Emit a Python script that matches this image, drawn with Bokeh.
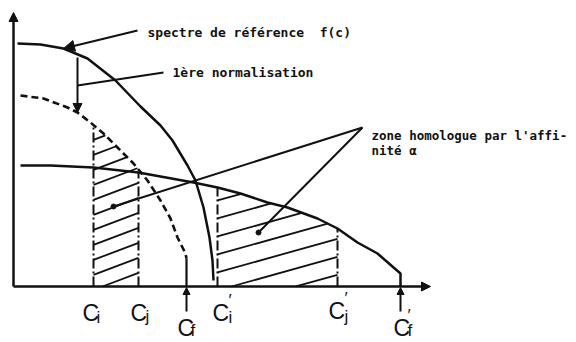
import numpy as np
from bokeh.plotting import figure
from bokeh.models import Range1d, Arrow, NormalHead
from bokeh.core.properties import value
from bokeh.embed import file_html
from bokeh.resources import INLINE

# reference spectrum f(c)
ref_c = [4, 27, 50, 74, 102, 127, 147, 159, 174, 182, 190, 196, 199, 200]
ref_f = [243, 242, 238, 228, 206, 180, 161, 146, 121, 106, 79, 49, 26, 6]
# spectrum after the 1st normalisation (dashed)
norm_c = [7, 30, 54, 64, 77, 90, 104, 120, 134, 147, 157, 164, 172, 173]
norm_f = [191, 188, 179, 174, 164, 153, 139, 123, 106, 86, 68, 49, 33, 28]
# second (flatter) spectrum
meas_c = [7, 37, 80, 125, 147, 180, 204, 227, 254, 274, 304, 324, 344, 364, 387, 387]
meas_f = [121, 121, 119, 114, 110, 104, 99, 93, 84, 79, 68, 58, 44, 33, 13, 0]

# cut-off abscissae
c_i, c_j, c_f = 80, 125, 173
c_i2, c_j2, c_f2 = 204, 324, 387

label_main = "C"
label_subs = ["i", "j", "f", "i", "j", "f"]
label_primes = [False, False, False, True, True, True]

txt_ref = "spectre de référence\u00a0 f(c)"
txt_norm = "1ère normalisation"
txt_zone = ["zone homologue par l'affi-", "nité α"]

INK = "#111111"

p = figure(width=576, height=342, x_range=Range1d(-13, 563), y_range=Range1d(-56, 286),
           output_backend="svg", toolbar_location=None, min_border=0,
           x_axis_location=None, y_axis_location=None)
p.grid.visible = False
p.outline_line_color = None
p.background_fill_color = "white"


def hatch(xa, xb, tx, ty, slope, spacing, x0):
    xs = np.linspace(xa, xb, 1200)
    top = np.interp(xs, tx, ty)
    sx, sy = [], []
    for k in range(-30, 40):
        yl = slope * (xs - x0) + k * spacing
        m = (yl >= 0) & (yl <= top)
        idx = np.where(m)[0]
        if len(idx) < 2:
            continue
        sx.append([xs[idx[0]], xs[idx[-1]]])
        sy.append([yl[idx[0]], yl[idx[-1]]])
    return sx, sy

# hatched zones
hx, hy = hatch(c_i, c_j, norm_c, norm_f, 0.38, 15, 89)
p.multi_line(hx, hy, line_color=INK, line_width=1.8)
hx2, hy2 = hatch(c_i2, c_j2, meas_c, meas_f, 0.28, 18, 218)
p.multi_line(hx2, hy2, line_color=INK, line_width=1.8)

# dash-dot boundaries
top_i = float(np.interp(c_i, norm_c, norm_f))
top_j = float(np.interp(c_j, meas_c, meas_f))
top_i2 = float(np.interp(c_i2, meas_c, meas_f))
top_j2 = float(np.interp(c_j2, meas_c, meas_f))
p.segment(x0=[c_i, c_j, c_i2, c_j2], y0=[0, 0, 0, 0],
          x1=[c_i, c_j, c_i2, c_j2], y1=[top_i, top_j, top_i2, top_j2],
          line_color=INK, line_width=2, line_dash="10 3 2 3")

# curves
p.line(ref_c, ref_f, line_color=INK, line_width=2.5)
p.line(norm_c, norm_f, line_color=INK, line_width=2.6, line_dash="7 4")
p.line(meas_c, meas_f, line_color=INK, line_width=2.5)

# continuation of the dashed curve down to c_f
p.segment(x0=[c_f], y0=[norm_f[-1]], x1=[c_f], y1=[0], line_color=INK, line_width=2.2)

# axes
p.add_layout(Arrow(end=NormalHead(size=9, fill_color=INK, line_color=INK),
                   x_start=0, y_start=0, x_end=0, y_end=274,
                   line_color=INK, line_width=2.5))
p.add_layout(Arrow(end=NormalHead(size=9, fill_color=INK, line_color=INK),
                   x_start=0, y_start=0, x_end=417, y_end=0,
                   line_color=INK, line_width=2.5))

# arrows from labels C_f, C'_f up to the axis
for cx in (c_f, c_f2):
    p.add_layout(Arrow(end=NormalHead(size=7, fill_color=INK, line_color=INK),
                       x_start=cx, y_start=-25, x_end=cx, y_end=-1,
                       line_color=INK, line_width=2))

# annotation: reference spectrum
p.add_layout(Arrow(end=NormalHead(size=11, fill_color=INK, line_color=INK),
                   x_start=124, y_start=256, x_end=ref_c[2], y_end=ref_f[2],
                   line_color=INK, line_width=2))
# annotation: 1st normalisation
p.segment(x0=[150], y0=[214], x1=[norm_c[3]], y1=[201], line_color=INK, line_width=2)
p.add_layout(Arrow(end=NormalHead(size=9, fill_color=INK, line_color=INK),
                   x_start=norm_c[3], y_start=229, x_end=norm_c[3], y_end=norm_f[3],
                   line_color=INK, line_width=2))
# annotation: zone homologue
p.segment(x0=[349, 349], y0=[159, 159], x1=[100, 245], y1=[80, 54], line_color=INK, line_width=2)
p.scatter([100, 245], [80, 54], size=5, color=INK)

mono = value("DejaVu Sans Mono")
p.text(x=[134], y=[254], text=[txt_ref], text_font=mono, text_font_style="bold",
       text_font_size="13px", text_color=INK, text_baseline="alphabetic")
p.text(x=[159], y=[214], text=[txt_norm], text_font=mono, text_font_style="bold",
       text_font_size="13px", text_color=INK, text_baseline="alphabetic")
p.text(x=[358, 358], y=[151, 136], text=txt_zone, text_font=mono, text_font_style="bold",
       text_font_size="12.5px", text_color=INK, text_baseline="alphabetic")

# C labels
sans = value("Liberation Sans")
lab_x = [69, 117, 164, 199, 315, 380]
lab_y = [-26, -26, -41, -26, -24, -41]
sub_dx = [14, 15, 13, 16, 16, 14]
sub_dy = [-5, -4, -3, -5, -6, -3]
p.text(x=lab_x, y=lab_y, text=[label_main] * 6, text_font=sans, text_font_size="23px",
       text_color=INK, text_baseline="alphabetic")
p.text(x=[x + d for x, d in zip(lab_x, sub_dx)], y=[y + d for y, d in zip(lab_y, sub_dy)],
       text=label_subs, text_font=sans, text_font_size="17px",
       text_color=INK, text_baseline="alphabetic")
px_ = [x + d for x, d, pr in zip(lab_x, sub_dx, label_primes) if pr]
py_ = [y + 12 for y, pr in zip(lab_y, label_primes) if pr]
p.text(x=px_, y=py_, text=["′"] * len(px_), text_font=sans, text_font_size="17px",
       text_color=INK, text_baseline="alphabetic")

open("out.html", "w").write(file_html(p, INLINE))
